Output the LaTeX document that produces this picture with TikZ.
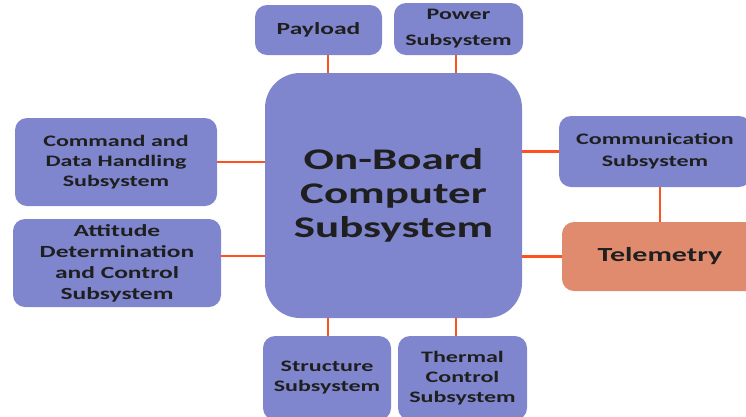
\documentclass[tikz,border=0pt]{standalone}
\usepackage{fontspec}
\setmainfont{Carlito}[FakeStretch=1.5]
\definecolor{boxblue}{HTML}{7F86CE}
\definecolor{telered}{HTML}{E08A6E}
\definecolor{linkred}{HTML}{FF5020}
\tikzset{sub/.style={draw=none,fill=boxblue,rounded corners=12pt,align=center,
		inner sep=0pt,outer sep=0pt,text=black!88,
		font=\bfseries\fontsize{16}{20}\selectfont},
	link/.style={draw=linkred,line width=2.5pt}}

\begin{document}
\begin{tikzpicture}[x=1pt,y=-1pt]
	\useasboundingbox (0,0) rectangle (746,416);
	\clip (0,0) rectangle (746,416);
	% centre
	\node[sub,minimum width=257pt,minimum height=245pt,rounded corners=35pt,
		font=\bfseries\fontsize{30}{34}\selectfont] (obc) at (393.5,195.5)
		{On-Board\\Computer\\Subsystem};
	% top
	\node[sub,minimum width=127pt,minimum height=50pt,
		font=\bfseries\fontsize{17}{20}\selectfont] (pay) at (318.5,30) {Payload};
	\node[sub,minimum width=129pt,minimum height=52pt,
		font=\bfseries\fontsize{16}{26}\selectfont] (pow) at (458.5,29)
		{Power\\Subsystem};
	% left
	\node[sub,minimum width=202pt,minimum height=88pt] (cdh) at (116,162)
		{Command and\\Data Handling\\Subsystem};
	\node[sub,minimum width=208pt,minimum height=88pt,
		font=\bfseries\fontsize{17}{21}\selectfont] (adcs) at (117,263)
		{Attitude\\Determination\\and Control\\Subsystem};
	% right
	\node[sub,minimum width=192pt,minimum height=71pt,
		font=\bfseries\fontsize{16}{22}\selectfont] (com) at (655,151.5)
		{Communication\\Subsystem};
	\node[sub,fill=telered,minimum width=196pt,minimum height=69pt,
		font=\bfseries\fontsize{20}{24}\selectfont] (tel) at (660,256.5) {Telemetry};
	% bottom
	\node[sub,minimum width=128pt,minimum height=84pt] (str) at (327,378)
		{Structure\\Subsystem};
	\node[sub,minimum width=129pt,minimum height=84pt] (thm) at (462.5,378)
		{Thermal\\Control\\Subsystem};

	\draw[link] ([xshift=9.5pt]pay.south) -- ([xshift=9.5pt]pay.south |- obc.north);
	\draw[link] ([xshift=-2.5pt]pow.south) -- ([xshift=-2.5pt]pow.south |- obc.north);
	\draw[link] (cdh.east) -- (cdh.east -| obc.west);
	\draw[link] ([yshift=7pt]adcs.east) -- ([yshift=7pt]adcs.east -| obc.west);
	\draw[link] (com.west) -- (com.west -| obc.east);
	\draw[link] (tel.west) -- (tel.west -| obc.east);
	\draw[link] (tel.north) -- (tel.north |- com.south);
	\draw[link] ([xshift=1pt]str.north) -- ([xshift=1pt]str.north |- obc.south);
	\draw[link] ([xshift=-6.5pt]thm.north) -- ([xshift=-6.5pt]thm.north |- obc.south);
\end{tikzpicture}
\end{document}
